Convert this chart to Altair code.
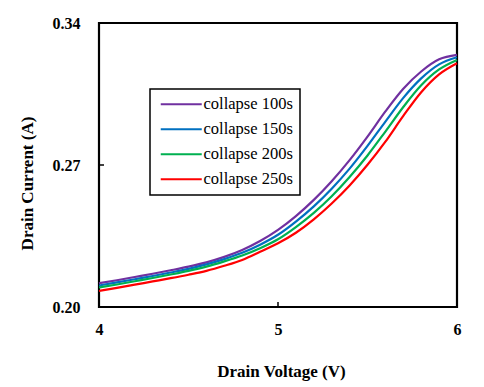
import altair as alt
import pandas as pd

voltage = [4.0, 4.1, 4.2, 4.3, 4.4, 4.5, 4.6, 4.7, 4.8, 4.9, 5.0,
           5.1, 5.2, 5.3, 5.4, 5.5, 5.6, 5.7, 5.8, 5.9, 6.0]

c100 = [0.2117, 0.2132, 0.2148, 0.2164, 0.2181, 0.2199, 0.2220, 0.2247, 0.2281, 0.2325, 0.2380,
        0.2448, 0.2528, 0.2620, 0.2724, 0.2840, 0.2964, 0.3076, 0.3161, 0.3221, 0.3243]
c150 = [0.2106, 0.2121, 0.2137, 0.2153, 0.2170, 0.2188, 0.2210, 0.2236, 0.2267, 0.2307, 0.2356,
        0.2421, 0.2496, 0.2583, 0.2682, 0.2794, 0.2914, 0.3031, 0.3127, 0.3196, 0.3231]
c200 = [0.2096, 0.2111, 0.2127, 0.2143, 0.2160, 0.2178, 0.2199, 0.2225, 0.2254, 0.2290, 0.2334,
        0.2394, 0.2464, 0.2546, 0.2641, 0.2747, 0.2865, 0.2986, 0.3093, 0.3171, 0.3218]
c250 = [0.2079, 0.2094, 0.2110, 0.2126, 0.2142, 0.2159, 0.2178, 0.2203, 0.2232, 0.2272, 0.2314,
        0.2366, 0.2432, 0.2510, 0.2599, 0.2701, 0.2815, 0.2942, 0.3059, 0.3147, 0.3202]

series_names = ["collapse 100s", "collapse 150s", "collapse 200s", "collapse 250s"]
series_colors = ["#7030A0", "#0070C0", "#00B050", "#FF0000"]

x_ticks = [4, 5, 6]
y_ticks = [0.20, 0.27, 0.34]

rows = []
for name, vals in zip(series_names, [c100, c150, c200, c250]):
    for v, i in zip(voltage, vals):
        rows.append({"V": v, "I": i, "series": name})
df = pd.DataFrame(rows)

FONT = "Liberation Serif"

xscale = alt.Scale(domain=[4, 6], nice=False, zero=False)
yscale = alt.Scale(domain=[0.20, 0.34], nice=False, zero=False)

x_axis = alt.Axis(values=x_ticks, format=".0f", title="Drain Voltage (V)",
                  grid=False, domain=False, ticks=False, tickSize=0,
                  labelOverlap=False, labelFlush=False,
                  labelPadding=14, labelFont=FONT, labelFontSize=16,
                  labelFontWeight="bold", labelColor="black",
                  titleFont=FONT, titleFontSize=17, titleFontWeight="bold",
                  titleColor="black", titleX=182, titleY=64,
                  titleBaseline="middle", titleAlign="center")
y_axis = alt.Axis(values=y_ticks, format=".2f", title="Drain Current (A)",
                  grid=False, domain=False, ticks=False, tickSize=0,
                  labelOverlap=False, labelFlush=False,
                  labelPadding=19, labelFont=FONT, labelFontSize=16,
                  labelFontWeight="bold", labelColor="black",
                  titleFont=FONT, titleFontSize=17, titleFontWeight="bold",
                  titleColor="black", titleX=-72, titleY=160,
                  titleBaseline="middle", titleAlign="center", titleAngle=270)

lines = alt.Chart(df).mark_line(strokeWidth=2.2, interpolate="monotone").encode(
    x=alt.X("V:Q", scale=xscale, axis=x_axis),
    y=alt.Y("I:Q", scale=yscale, axis=y_axis),
    color=alt.Color("series:N",
                    scale=alt.Scale(domain=series_names, range=series_colors),
                    legend=alt.Legend(title=None, orient="none", legendX=51, legendY=66,
                                      padding=7, rowPadding=8,
                                      symbolType="M-4.1,0H4.1", symbolSize=100,
                                      symbolStrokeWidth=2, symbolOffset=16,
                                      labelOffset=14, labelFont=FONT, labelFontSize=16.5,
                                      labelColor="black", labelBaseline="middle",
                                      strokeColor="black", fillColor="white",
                                      labelLimit=300)),
)

ytick_df = pd.DataFrame({"I": [v for v in y_ticks[1:-1]]})
xtick_df = pd.DataFrame({"V": [v for v in x_ticks[1:-1]]})

ytick_rules = alt.Chart(ytick_df).mark_rule(color="black", strokeWidth=1.5).encode(
    y=alt.Y("I:Q", scale=yscale, axis=y_axis), x=alt.value(0), x2=alt.value(5))
xtick_rules = alt.Chart(xtick_df).mark_rule(color="black", strokeWidth=1.5).encode(
    x=alt.X("V:Q", scale=xscale, axis=x_axis), y=alt.value(284), y2=alt.value(279))

chart = alt.layer(lines, ytick_rules, xtick_rules).properties(
    width=358, height=284,
    autosize=alt.AutoSizeParams(type="none"),
    padding={"left": 91, "top": 15, "right": 19, "bottom": 80},
    background="white",
).configure(font=FONT).configure_view(stroke="black", strokeWidth=2.2).configure_legend(strokeWidth=1.5)

chart.save("out.html", embed_options={"renderer": "svg", "actions": False})
